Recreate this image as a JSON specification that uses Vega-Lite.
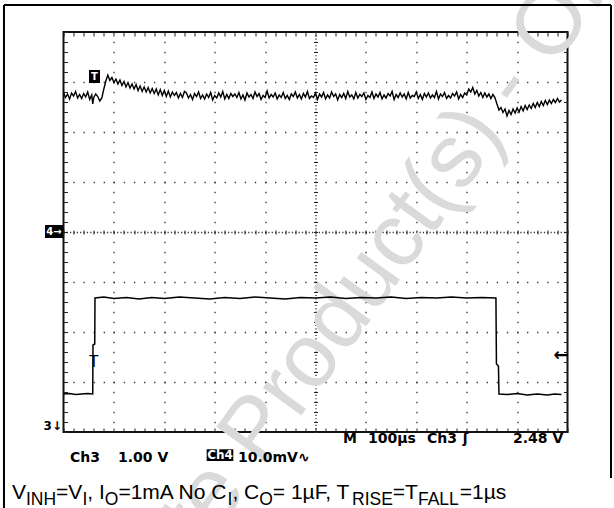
{
"$schema":"https://vega.github.io/schema/vega-lite/v6.json",
"width":504,"height":400,
"autosize":{"type":"none"},
"padding":{"left":63.5,"top":32,"right":46.5,"bottom":76},
"background":"#ffffff",
"config":{"view":{"stroke":"#111","strokeWidth":2}},
"datasets":{
"ch3":[{"t":1,"V":1.70},{"t":12,"V":1.71},{"t":24,"V":1.69},{"t":36,"V":1.70},{"t":48,"V":1.71},{"t":58,"V":1.70},{"t":58.5,"V":2.68},{"t":62,"V":2.70},{"t":62.5,"V":3.62},{"t":80,"V":3.64},{"t":100,"V":3.61},{"t":125,"V":3.63},{"t":150,"V":3.60},{"t":175,"V":3.63},{"t":200,"V":3.61},{"t":230,"V":3.64},{"t":260,"V":3.62},{"t":290,"V":3.60},{"t":320,"V":3.63},{"t":350,"V":3.61},{"t":380,"V":3.64},{"t":410,"V":3.62},{"t":440,"V":3.60},{"t":470,"V":3.63},{"t":500,"V":3.62},{"t":530,"V":3.64},{"t":560,"V":3.61},{"t":590,"V":3.63},{"t":620,"V":3.62},{"t":650,"V":3.64},{"t":680,"V":3.61},{"t":710,"V":3.63},{"t":740,"V":3.62},{"t":770,"V":3.64},{"t":800,"V":3.62},{"t":830,"V":3.63},{"t":858,"V":3.62},{"t":859,"V":2.30},{"t":863,"V":2.26},{"t":864,"V":1.70},{"t":880,"V":1.69},{"t":900,"V":1.71},{"t":920,"V":1.68},{"t":940,"V":1.70},{"t":960,"V":1.68},{"t":975,"V":1.70},{"t":988,"V":1.69}],
"ch4":[{"t":0,"mV":27.9},{"t":4,"mV":26.9},{"t":8,"mV":27.6},{"t":12,"mV":26.6},{"t":16,"mV":27.8},{"t":20,"mV":27.2},{"t":24,"mV":28.1},{"t":28,"mV":26.8},{"t":32,"mV":27.5},{"t":36,"mV":26.7},{"t":40,"mV":27.7},{"t":44,"mV":27.0},{"t":48,"mV":28.0},{"t":52,"mV":26.5},{"t":56,"mV":27.4},{"t":58,"mV":25.6},{"t":60,"mV":26.9},{"t":64,"mV":27.6},{"t":68,"mV":27.1},{"t":72,"mV":26.2},{"t":76,"mV":26.8},{"t":80,"mV":28.6},{"t":84,"mV":30.2},{"t":88,"mV":31.4},{"t":92,"mV":30.3},{"t":96,"mV":30.9},{"t":100,"mV":29.9},{"t":104,"mV":30.6},{"t":108,"mV":29.6},{"t":112,"mV":30.4},{"t":116,"mV":29.3},{"t":120,"mV":30.1},{"t":124,"mV":29.0},{"t":128,"mV":29.9},{"t":132,"mV":28.8},{"t":136,"mV":29.6},{"t":140,"mV":28.6},{"t":144,"mV":29.5},{"t":148,"mV":28.3},{"t":152,"mV":29.2},{"t":156,"mV":28.1},{"t":160,"mV":29.0},{"t":164,"mV":28.0},{"t":168,"mV":28.9},{"t":172,"mV":27.8},{"t":176,"mV":28.7},{"t":180,"mV":27.7},{"t":184,"mV":28.6},{"t":188,"mV":27.4},{"t":192,"mV":28.5},{"t":196,"mV":27.3},{"t":200,"mV":28.3},{"t":204,"mV":27.1},{"t":208,"mV":28.2},{"t":212,"mV":27.0},{"t":216,"mV":28.0},{"t":220,"mV":27.3},{"t":224,"mV":27.9},{"t":228,"mV":26.8},{"t":232,"mV":27.7},{"t":236,"mV":26.9},{"t":240,"mV":28.1},{"t":244,"mV":27.8},{"t":248,"mV":26.8},{"t":252,"mV":27.5},{"t":256,"mV":26.5},{"t":260,"mV":27.7},{"t":264,"mV":27.1},{"t":268,"mV":28.0},{"t":272,"mV":26.7},{"t":276,"mV":27.4},{"t":280,"mV":26.6},{"t":284,"mV":27.6},{"t":288,"mV":26.9},{"t":292,"mV":27.9},{"t":296,"mV":26.4},{"t":300,"mV":27.3},{"t":304,"mV":26.8},{"t":308,"mV":27.8},{"t":312,"mV":27.0},{"t":316,"mV":28.1},{"t":320,"mV":26.6},{"t":324,"mV":27.5},{"t":328,"mV":26.7},{"t":332,"mV":27.7},{"t":336,"mV":27.1},{"t":340,"mV":27.6},{"t":344,"mV":26.9},{"t":348,"mV":27.9},{"t":352,"mV":26.6},{"t":356,"mV":27.4},{"t":360,"mV":26.4},{"t":364,"mV":27.8},{"t":368,"mV":27.0},{"t":372,"mV":27.5},{"t":376,"mV":26.7},{"t":380,"mV":28.0},{"t":384,"mV":27.1},{"t":388,"mV":27.7},{"t":392,"mV":26.5},{"t":396,"mV":27.3},{"t":400,"mV":26.9},{"t":404,"mV":28.2},{"t":408,"mV":26.8},{"t":412,"mV":27.5},{"t":416,"mV":27.0},{"t":420,"mV":27.8},{"t":424,"mV":26.6},{"t":428,"mV":27.4},{"t":432,"mV":26.9},{"t":436,"mV":27.9},{"t":440,"mV":26.7},{"t":444,"mV":27.3},{"t":448,"mV":26.5},{"t":452,"mV":27.6},{"t":456,"mV":27.1},{"t":460,"mV":28.0},{"t":464,"mV":26.8},{"t":468,"mV":27.5},{"t":472,"mV":26.6},{"t":476,"mV":27.7},{"t":480,"mV":27.0},{"t":484,"mV":28.1},{"t":488,"mV":26.7},{"t":492,"mV":27.2},{"t":496,"mV":26.9},{"t":500,"mV":27.8},{"t":504,"mV":26.5},{"t":508,"mV":27.6},{"t":512,"mV":27.0},{"t":516,"mV":27.9},{"t":520,"mV":26.6},{"t":524,"mV":27.4},{"t":528,"mV":26.8},{"t":532,"mV":28.0},{"t":536,"mV":27.1},{"t":540,"mV":27.6},{"t":544,"mV":26.4},{"t":548,"mV":27.5},{"t":552,"mV":26.9},{"t":556,"mV":27.7},{"t":560,"mV":26.7},{"t":564,"mV":28.1},{"t":568,"mV":27.0},{"t":572,"mV":27.4},{"t":576,"mV":26.6},{"t":580,"mV":27.9},{"t":584,"mV":26.8},{"t":588,"mV":27.5},{"t":592,"mV":27.1},{"t":596,"mV":27.8},{"t":600,"mV":26.5},{"t":604,"mV":27.3},{"t":608,"mV":26.9},{"t":612,"mV":28.0},{"t":616,"mV":26.7},{"t":620,"mV":27.6},{"t":624,"mV":27.0},{"t":628,"mV":27.9},{"t":632,"mV":26.6},{"t":636,"mV":27.4},{"t":640,"mV":26.8},{"t":644,"mV":27.7},{"t":648,"mV":27.2},{"t":652,"mV":28.1},{"t":656,"mV":26.5},{"t":660,"mV":27.5},{"t":664,"mV":26.9},{"t":668,"mV":27.8},{"t":672,"mV":27.0},{"t":676,"mV":27.6},{"t":680,"mV":26.6},{"t":684,"mV":27.9},{"t":688,"mV":26.8},{"t":692,"mV":27.3},{"t":696,"mV":27.1},{"t":700,"mV":28.0},{"t":704,"mV":26.7},{"t":708,"mV":27.5},{"t":712,"mV":26.5},{"t":716,"mV":27.7},{"t":720,"mV":27.0},{"t":724,"mV":27.8},{"t":728,"mV":26.8},{"t":732,"mV":27.4},{"t":736,"mV":26.9},{"t":740,"mV":28.1},{"t":744,"mV":26.6},{"t":748,"mV":27.6},{"t":752,"mV":27.1},{"t":756,"mV":27.9},{"t":760,"mV":26.7},{"t":764,"mV":27.3},{"t":768,"mV":26.8},{"t":772,"mV":27.7},{"t":776,"mV":27.2},{"t":780,"mV":28.0},{"t":784,"mV":26.6},{"t":788,"mV":27.5},{"t":792,"mV":26.9},{"t":796,"mV":27.8},{"t":800,"mV":27.4},{"t":804,"mV":28.6},{"t":808,"mV":28.0},{"t":812,"mV":28.9},{"t":816,"mV":27.6},{"t":820,"mV":28.3},{"t":824,"mV":27.2},{"t":828,"mV":27.9},{"t":832,"mV":26.9},{"t":836,"mV":27.8},{"t":840,"mV":27.0},{"t":844,"mV":27.6},{"t":848,"mV":26.7},{"t":852,"mV":27.5},{"t":856,"mV":26.9},{"t":860,"mV":25.6},{"t":864,"mV":24.4},{"t":868,"mV":24.9},{"t":872,"mV":23.9},{"t":876,"mV":24.6},{"t":880,"mV":23.2},{"t":884,"mV":24.3},{"t":888,"mV":23.5},{"t":892,"mV":24.6},{"t":896,"mV":23.8},{"t":900,"mV":24.8},{"t":904,"mV":24.0},{"t":908,"mV":25.1},{"t":912,"mV":24.2},{"t":916,"mV":25.3},{"t":920,"mV":24.5},{"t":924,"mV":25.4},{"t":928,"mV":24.7},{"t":932,"mV":25.7},{"t":936,"mV":24.9},{"t":940,"mV":25.9},{"t":944,"mV":25.1},{"t":948,"mV":26.1},{"t":952,"mV":25.3},{"t":956,"mV":26.3},{"t":960,"mV":25.5},{"t":964,"mV":26.4},{"t":968,"mV":25.7},{"t":972,"mV":26.5},{"t":976,"mV":25.9},{"t":980,"mV":26.7},{"t":984,"mV":26.0},{"t":988,"mV":26.4}]
},
"resolve":{"scale":{"y":"independent"},"axis":{"x":"independent","y":"independent"}},
"layer":[
{"data":{"values":[{}]},"mark":{"type":"text","text":"Obsolete Product(s) - Obsolete Product(s)","font":"Liberation Sans","fontSize":90,"angle":-54,"color":"#dadada","align":"center","baseline":"middle"},
 "encoding":{"x":{"datum":882,"type":"quantitative","scale":{"domain":[0,1000],"nice":false,"zero":false},"axis":null},"y":{"datum":2.94,"type":"quantitative","scale":{"domain":[-4,4],"nice":false,"zero":false},"axis":null}}},
{"data":{"name":"ch3"},"mark":{"type":"line","color":"#000","strokeWidth":1.5},
 "encoding":{"x":{"field":"t","type":"quantitative","scale":{"domain":[0,1000],"nice":false,"zero":false},
   "axis":{"orient":"bottom","title":null,"labels":false,"domain":false,"ticks":true,"tickSize":-4,"tickColor":"#222","tickWidth":1,
   "values":[0,20,40,60,80,100,120,140,160,180,200,220,240,260,280,300,320,340,360,380,400,420,440,460,480,500,520,540,560,580,600,620,640,660,680,700,720,740,760,780,800,820,840,860,880,900,920,940,960,980,1000],
   "grid":true,"gridColor":"#333","gridWidth":1.3,"gridDashOffset":0.65,
   "gridOpacity":{"condition":{"test":"datum.value % 100 === 0 && datum.value > 0 && datum.value < 1000","value":1},"value":0},
   "gridDash":{"condition":{"test":"datum.value === 500","value":[1.2,2.13]},"value":[1.3,8.7]}}},
  "y":{"field":"V","type":"quantitative","scale":{"domain":[0.94,8.94],"nice":false,"zero":false},"axis":null}}},
{"data":{"name":"ch4"},"mark":{"type":"line","color":"#000","strokeWidth":1.4},
 "encoding":{"x":{"field":"t","type":"quantitative","scale":{"domain":[0,1000],"nice":false,"zero":false},
   "axis":{"orient":"top","title":null,"labels":false,"domain":false,"ticks":true,"tickSize":-4,"tickColor":"#222","tickWidth":1,"grid":false,
   "values":[0,20,40,60,80,100,120,140,160,180,200,220,240,260,280,300,320,340,360,380,400,420,440,460,480,500,520,540,560,580,600,620,640,660,680,700,720,740,760,780,800,820,840,860,880,900,920,940,960,980,1000]}},
  "y":{"field":"mV","type":"quantitative","scale":{"domain":[-40,40],"nice":false,"zero":false},
   "axis":{"orient":"left","title":null,"labels":false,"domain":false,"ticks":true,"tickSize":-4,"tickColor":"#222","tickWidth":1,
   "values":[-40,-38,-36,-34,-32,-30,-28,-26,-24,-22,-20,-18,-16,-14,-12,-10,-8,-6,-4,-2,0,2,4,6,8,10,12,14,16,18,20,22,24,26,28,30,32,34,36,38,40],
   "grid":true,"gridColor":"#333","gridWidth":1.3,"gridDashOffset":0.65,
   "gridOpacity":{"condition":{"test":"datum.value % 10 === 0 && abs(datum.value) < 40","value":1},"value":0},
   "gridDash":{"condition":{"test":"datum.value === 0","value":[1.2,2.16]},"value":[1.3,8.78]}}}}},
{"data":{"values":[{}]},"mark":{"type":"rule","color":"#000","strokeWidth":2},
 "encoding":{"x":{"datum":-118.1,"type":"quantitative","scale":{"domain":[0,1000],"nice":false,"zero":false},"axis":null},"y":{"datum":4.54,"type":"quantitative","scale":{"domain":[-4,4],"nice":false,"zero":false},"axis":null},"y2":{"datum":-5.52}}},
{"data":{"values":[{}]},"mark":{"type":"rule","color":"#000","strokeWidth":2},
 "encoding":{"x":{"datum":-118.1,"type":"quantitative","scale":{"domain":[0,1000],"nice":false,"zero":false},"axis":null},"x2":{"datum":1086.3},"y":{"datum":4.54,"type":"quantitative","scale":{"domain":[-4,4],"nice":false,"zero":false},"axis":null}}},
{"data":{"values":[{}]},"mark":{"type":"rule","color":"#000","strokeWidth":2},
 "encoding":{"x":{"datum":1086.3,"type":"quantitative","scale":{"domain":[0,1000],"nice":false,"zero":false},"axis":null},"y":{"datum":4.54,"type":"quantitative","scale":{"domain":[-4,4],"nice":false,"zero":false},"axis":null},"y2":{"datum":-4.92}}},
{"data":{"values":[{}]},"mark":{"type":"rect","color":"#000"},
 "encoding":{"x":{"datum":50.6,"type":"quantitative","scale":{"domain":[0,1000],"nice":false,"zero":false},"axis":null},"x2":{"datum":72.4},"y":{"datum":3.24,"type":"quantitative","scale":{"domain":[-4,4],"nice":false,"zero":false},"axis":null},"y2":{"datum":2.98}}},
{"data":{"values":[{}]},"mark":{"type":"text","text":"T","font":"DejaVu Sans","fontWeight":"bold","fontSize":10,"color":"#fff","align":"center","baseline":"middle"},
 "encoding":{"x":{"datum":61.5,"type":"quantitative","scale":{"domain":[0,1000],"nice":false,"zero":false},"axis":null},"y":{"datum":3.11,"type":"quantitative","scale":{"domain":[-4,4],"nice":false,"zero":false},"axis":null}}},
{"data":{"values":[{}]},"mark":{"type":"rect","color":"#000"},
 "encoding":{"x":{"datum":-36.7,"type":"quantitative","scale":{"domain":[0,1000],"nice":false,"zero":false},"axis":null},"x2":{"datum":-1.0},"y":{"datum":0.14,"type":"quantitative","scale":{"domain":[-4,4],"nice":false,"zero":false},"axis":null},"y2":{"datum":-0.12}}},
{"data":{"values":[{}]},"mark":{"type":"text","text":"4→","font":"DejaVu Sans","fontWeight":"bold","fontSize":10,"color":"#fff","align":"center","baseline":"middle"},
 "encoding":{"x":{"datum":-18.8,"type":"quantitative","scale":{"domain":[0,1000],"nice":false,"zero":false},"axis":null},"y":{"datum":0,"type":"quantitative","scale":{"domain":[-4,4],"nice":false,"zero":false},"axis":null}}},
{"data":{"values":[{}]},"mark":{"type":"rect","color":"#000"},
 "encoding":{"x":{"datum":284.1,"type":"quantitative","scale":{"domain":[0,1000],"nice":false,"zero":false},"axis":null},"x2":{"datum":336.9},"y":{"datum":-4.346,"type":"quantitative","scale":{"domain":[-4,4],"nice":false,"zero":false},"axis":null},"y2":{"datum":-4.58}}},
{"data":{"values":[{}]},"mark":{"type":"text","text":"Ch4","font":"DejaVu Sans","fontWeight":"bold","fontSize":12,"color":"#fff","align":"center","baseline":"alphabetic"},
 "encoding":{"x":{"datum":310.5,"type":"quantitative","scale":{"domain":[0,1000],"nice":false,"zero":false},"axis":null},"y":{"datum":-4.54,"type":"quantitative","scale":{"domain":[-4,4],"nice":false,"zero":false},"axis":null}}},
{"data":{"values":[{}]},"mark":{"type":"text","text":"3↓","font":"DejaVu Sans","fontWeight":"bold","fontSize":12,"color":"#000","align":"right","baseline":"alphabetic"},
 "encoding":{"x":{"datum":-3.0,"type":"quantitative","scale":{"domain":[0,1000],"nice":false,"zero":false},
   "axis":{"orient":"bottom","offset":-198,"title":null,"labels":false,"domain":false,"grid":false,"ticks":true,"tickSize":-4,"tickColor":"#222","tickWidth":1,
   "values":[0,20,40,60,80,100,120,140,160,180,200,220,240,260,280,300,320,340,360,380,400,420,440,460,480,500,520,540,560,580,600,620,640,660,680,700,720,740,760,780,800,820,840,860,880,900,920,940,960,980,1000]}},
  "y":{"datum":-3.96,"type":"quantitative","scale":{"domain":[-4,4],"nice":false,"zero":false},
   "axis":{"orient":"right","title":null,"labels":false,"domain":false,"grid":false,"ticks":true,"tickSize":-4,"tickColor":"#222","tickWidth":1,
   "values":[-4,-3.8,-3.6,-3.4,-3.2,-3,-2.8,-2.6,-2.4,-2.2,-2,-1.8,-1.6,-1.4,-1.2,-1,-0.8,-0.6,-0.4,-0.2,0,0.2,0.4,0.6,0.8,1,1.2,1.4,1.6,1.8,2,2.2,2.4,2.6,2.8,3,3.2,3.4,3.6,3.8,4]}}}},
{"data":{"values":[{}]},"mark":{"type":"text","text":"Ch3","font":"DejaVu Sans","fontWeight":"bold","fontSize":14,"color":"#000","align":"left","baseline":"alphabetic"},
 "encoding":{"x":{"datum":12.9,"type":"quantitative","scale":{"domain":[0,1000],"nice":false,"zero":false},"axis":null},
  "y":{"datum":-4.6,"type":"quantitative","scale":{"domain":[-4,4],"nice":false,"zero":false},
   "axis":{"orient":"left","offset":-250,"title":null,"labels":false,"domain":false,"grid":false,"ticks":true,"tickSize":-4,"tickColor":"#222","tickWidth":1,
   "values":[-4,-3.8,-3.6,-3.4,-3.2,-3,-2.8,-2.6,-2.4,-2.2,-2,-1.8,-1.6,-1.4,-1.2,-1,-0.8,-0.6,-0.4,-0.2,0,0.2,0.4,0.6,0.8,1,1.2,1.4,1.6,1.8,2,2.2,2.4,2.6,2.8,3,3.2,3.4,3.6,3.8,4]}}}},
{"data":{"values":[{}]},"mark":{"type":"text","text":"1.00 V","font":"DejaVu Sans","fontWeight":"bold","fontSize":14,"color":"#000","align":"left","baseline":"alphabetic"},
 "encoding":{"x":{"datum":108.1,"type":"quantitative","scale":{"domain":[0,1000],"nice":false,"zero":false},"axis":null},"y":{"datum":-4.6,"type":"quantitative","scale":{"domain":[-4,4],"nice":false,"zero":false},"axis":null}}},
{"data":{"values":[{}]},"mark":{"type":"text","text":"10.0mV∿","font":"DejaVu Sans","fontWeight":"bold","fontSize":14,"color":"#000","align":"left","baseline":"alphabetic"},
 "encoding":{"x":{"datum":346.2,"type":"quantitative","scale":{"domain":[0,1000],"nice":false,"zero":false},"axis":null},"y":{"datum":-4.6,"type":"quantitative","scale":{"domain":[-4,4],"nice":false,"zero":false},"axis":null}}},
{"data":{"values":[{}]},"mark":{"type":"text","text":"M","font":"DejaVu Sans","fontWeight":"bold","fontSize":14,"color":"#000","align":"left","baseline":"alphabetic"},
 "encoding":{"x":{"datum":554.6,"type":"quantitative","scale":{"domain":[0,1000],"nice":false,"zero":false},"axis":null},"y":{"datum":-4.22,"type":"quantitative","scale":{"domain":[-4,4],"nice":false,"zero":false},"axis":null}}},
{"data":{"values":[{}]},"mark":{"type":"text","text":"100µs","font":"DejaVu Sans","fontWeight":"bold","fontSize":14,"color":"#000","align":"left","baseline":"alphabetic"},
 "encoding":{"x":{"datum":604.2,"type":"quantitative","scale":{"domain":[0,1000],"nice":false,"zero":false},"axis":null},"y":{"datum":-4.22,"type":"quantitative","scale":{"domain":[-4,4],"nice":false,"zero":false},"axis":null}}},
{"data":{"values":[{}]},"mark":{"type":"text","text":"Ch3","font":"DejaVu Sans","fontWeight":"bold","fontSize":14,"color":"#000","align":"left","baseline":"alphabetic"},
 "encoding":{"x":{"datum":721,"type":"quantitative","scale":{"domain":[0,1000],"nice":false,"zero":false},"axis":null},"y":{"datum":-4.22,"type":"quantitative","scale":{"domain":[-4,4],"nice":false,"zero":false},"axis":null}}},
{"data":{"values":[{}]},"mark":{"type":"text","text":"ʃ","font":"DejaVu Sans","fontWeight":"bold","fontSize":14,"color":"#000","align":"left","baseline":"alphabetic"},
 "encoding":{"x":{"datum":792,"type":"quantitative","scale":{"domain":[0,1000],"nice":false,"zero":false},"axis":null},"y":{"datum":-4.22,"type":"quantitative","scale":{"domain":[-4,4],"nice":false,"zero":false},"axis":null}}},
{"data":{"values":[{}]},"mark":{"type":"text","text":"2.48 V","font":"DejaVu Sans","fontWeight":"bold","fontSize":14,"color":"#000","align":"left","baseline":"alphabetic"},
 "encoding":{"x":{"datum":891.9,"type":"quantitative","scale":{"domain":[0,1000],"nice":false,"zero":false},"axis":null},"y":{"datum":-4.22,"type":"quantitative","scale":{"domain":[-4,4],"nice":false,"zero":false},"axis":null}}},
{"data":{"values":[{}]},"mark":{"type":"text","text":"T","font":"Liberation Sans","fontSize":16,"color":"#000","align":"center","baseline":"alphabetic"},
 "encoding":{"x":{"datum":60.5,"type":"quantitative","scale":{"domain":[0,1000],"nice":false,"zero":false},"axis":null},"y":{"datum":-2.69,"type":"quantitative","scale":{"domain":[-4,4],"nice":false,"zero":false},"axis":null}}},
{"data":{"values":[{}]},"mark":{"type":"text","text":"←","font":"DejaVu Sans","fontWeight":"bold","fontSize":18,"color":"#000","align":"center","baseline":"middle"},
 "encoding":{"x":{"datum":987,"type":"quantitative","scale":{"domain":[0,1000],"nice":false,"zero":false},"axis":null},"y":{"datum":-2.48,"type":"quantitative","scale":{"domain":[-4,4],"nice":false,"zero":false},"axis":null}}},
{"data":{"values":[{}]},"mark":{"type":"text","text":"V","font":"Liberation Sans","fontSize":21,"color":"#000","align":"left","baseline":"alphabetic"},
 "encoding":{"x":{"datum":-102.2,"type":"quantitative","scale":{"domain":[0,1000],"nice":false,"zero":false},"axis":null},"y":{"datum":-5.346,"type":"quantitative","scale":{"domain":[-4,4],"nice":false,"zero":false},"axis":null}}},
{"data":{"values":[{}]},"mark":{"type":"text","text":"INH","font":"Liberation Sans","fontSize":17.5,"color":"#000","align":"left","baseline":"alphabetic"},
 "encoding":{"x":{"datum":-74.4,"type":"quantitative","scale":{"domain":[0,1000],"nice":false,"zero":false},"axis":null},"y":{"datum":-5.46,"type":"quantitative","scale":{"domain":[-4,4],"nice":false,"zero":false},"axis":null}}},
{"data":{"values":[{}]},"mark":{"type":"text","text":"=V","font":"Liberation Sans","fontSize":21,"color":"#000","align":"left","baseline":"alphabetic"},
 "encoding":{"x":{"datum":-14.7,"type":"quantitative","scale":{"domain":[0,1000],"nice":false,"zero":false},"axis":null},"y":{"datum":-5.346,"type":"quantitative","scale":{"domain":[-4,4],"nice":false,"zero":false},"axis":null}}},
{"data":{"values":[{}]},"mark":{"type":"text","text":"I","font":"Liberation Sans","fontSize":17.5,"color":"#000","align":"left","baseline":"alphabetic"},
 "encoding":{"x":{"datum":37.5,"type":"quantitative","scale":{"domain":[0,1000],"nice":false,"zero":false},"axis":null},"y":{"datum":-5.46,"type":"quantitative","scale":{"domain":[-4,4],"nice":false,"zero":false},"axis":null}}},
{"data":{"values":[{}]},"mark":{"type":"text","text":", I","font":"Liberation Sans","fontSize":21,"color":"#000","align":"left","baseline":"alphabetic"},
 "encoding":{"x":{"datum":47.2,"type":"quantitative","scale":{"domain":[0,1000],"nice":false,"zero":false},"axis":null},"y":{"datum":-5.346,"type":"quantitative","scale":{"domain":[-4,4],"nice":false,"zero":false},"axis":null}}},
{"data":{"values":[{}]},"mark":{"type":"text","text":"O","font":"Liberation Sans","fontSize":17.5,"color":"#000","align":"left","baseline":"alphabetic"},
 "encoding":{"x":{"datum":81.9,"type":"quantitative","scale":{"domain":[0,1000],"nice":false,"zero":false},"axis":null},"y":{"datum":-5.46,"type":"quantitative","scale":{"domain":[-4,4],"nice":false,"zero":false},"axis":null}}},
{"data":{"values":[{}]},"mark":{"type":"text","text":"=1mA No C","font":"Liberation Sans","fontSize":21,"color":"#000","align":"left","baseline":"alphabetic"},
 "encoding":{"x":{"datum":108.9,"type":"quantitative","scale":{"domain":[0,1000],"nice":false,"zero":false},"axis":null},"y":{"datum":-5.346,"type":"quantitative","scale":{"domain":[-4,4],"nice":false,"zero":false},"axis":null}}},
{"data":{"values":[{}]},"mark":{"type":"text","text":"I","font":"Liberation Sans","fontSize":17.5,"color":"#000","align":"left","baseline":"alphabetic"},
 "encoding":{"x":{"datum":325.4,"type":"quantitative","scale":{"domain":[0,1000],"nice":false,"zero":false},"axis":null},"y":{"datum":-5.46,"type":"quantitative","scale":{"domain":[-4,4],"nice":false,"zero":false},"axis":null}}},
{"data":{"values":[{}]},"mark":{"type":"text","text":", C","font":"Liberation Sans","fontSize":21,"color":"#000","align":"left","baseline":"alphabetic"},
 "encoding":{"x":{"datum":335.1,"type":"quantitative","scale":{"domain":[0,1000],"nice":false,"zero":false},"axis":null},"y":{"datum":-5.346,"type":"quantitative","scale":{"domain":[-4,4],"nice":false,"zero":false},"axis":null}}},
{"data":{"values":[{}]},"mark":{"type":"text","text":"O","font":"Liberation Sans","fontSize":17.5,"color":"#000","align":"left","baseline":"alphabetic"},
 "encoding":{"x":{"datum":388.3,"type":"quantitative","scale":{"domain":[0,1000],"nice":false,"zero":false},"axis":null},"y":{"datum":-5.46,"type":"quantitative","scale":{"domain":[-4,4],"nice":false,"zero":false},"axis":null}}},
{"data":{"values":[{}]},"mark":{"type":"text","text":"= 1µF, T","font":"Liberation Sans","fontSize":21,"color":"#000","align":"left","baseline":"alphabetic"},
 "encoding":{"x":{"datum":415.3,"type":"quantitative","scale":{"domain":[0,1000],"nice":false,"zero":false},"axis":null},"y":{"datum":-5.346,"type":"quantitative","scale":{"domain":[-4,4],"nice":false,"zero":false},"axis":null}}},
{"data":{"values":[{}]},"mark":{"type":"text","text":"RISE","font":"Liberation Sans","fontSize":17.5,"color":"#000","align":"left","baseline":"alphabetic"},
 "encoding":{"x":{"datum":572.4,"type":"quantitative","scale":{"domain":[0,1000],"nice":false,"zero":false},"axis":null},"y":{"datum":-5.46,"type":"quantitative","scale":{"domain":[-4,4],"nice":false,"zero":false},"axis":null}}},
{"data":{"values":[{}]},"mark":{"type":"text","text":"=T","font":"Liberation Sans","fontSize":21,"color":"#000","align":"left","baseline":"alphabetic"},
 "encoding":{"x":{"datum":653.4,"type":"quantitative","scale":{"domain":[0,1000],"nice":false,"zero":false},"axis":null},"y":{"datum":-5.346,"type":"quantitative","scale":{"domain":[-4,4],"nice":false,"zero":false},"axis":null}}},
{"data":{"values":[{}]},"mark":{"type":"text","text":"FALL","font":"Liberation Sans","fontSize":17.5,"color":"#000","align":"left","baseline":"alphabetic"},
 "encoding":{"x":{"datum":703.2,"type":"quantitative","scale":{"domain":[0,1000],"nice":false,"zero":false},"axis":null},"y":{"datum":-5.46,"type":"quantitative","scale":{"domain":[-4,4],"nice":false,"zero":false},"axis":null}}},
{"data":{"values":[{}]},"mark":{"type":"text","text":"=1µs","font":"Liberation Sans","fontSize":21,"color":"#000","align":"left","baseline":"alphabetic"},
 "encoding":{"x":{"datum":786.1,"type":"quantitative","scale":{"domain":[0,1000],"nice":false,"zero":false},"axis":null},"y":{"datum":-5.346,"type":"quantitative","scale":{"domain":[-4,4],"nice":false,"zero":false},"axis":null}}}
]
}
